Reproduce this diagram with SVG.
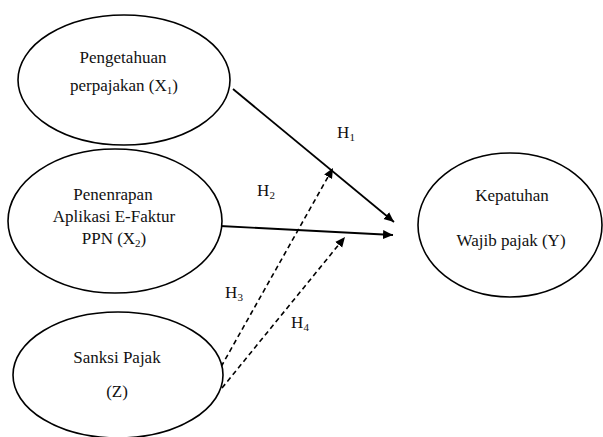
<svg xmlns="http://www.w3.org/2000/svg" width="603" height="437" viewBox="0 0 603 437">
<style>
.node{fill:#fff;stroke:#000;stroke-width:1.6}
text{font-family:"Liberation Serif","Times New Roman",serif;font-size:17px;fill:#111;text-anchor:middle}
.sub{font-size:11px}
.solid{stroke:#000;stroke-width:1.8;fill:none}
.dash{stroke:#000;stroke-width:1.6;fill:none;stroke-dasharray:5 3.5}
</style>
<defs>
<marker id="ah" viewBox="0 0 10 10" refX="10" refY="5" markerWidth="10" markerHeight="10" markerUnits="userSpaceOnUse" orient="auto">
<path d="M0,0.5 L10,5 L0,9.5 Z" fill="#000"/>
</marker>
</defs>
<rect width="603" height="437" fill="#fff"/>
<g id="connectors">
<line class="solid" x1="233" y1="89" x2="394" y2="222" marker-end="url(#ah)"/>
<line class="solid" x1="220" y1="226" x2="393" y2="235" marker-end="url(#ah)"/>
<line class="dash" x1="217" y1="374" x2="333" y2="168" marker-end="url(#ah)"/>
<line class="dash" x1="222" y1="388" x2="345" y2="237" marker-end="url(#ah)"/>
<text x="346" y="138">H<tspan class="sub" dy="3">1</tspan></text>
<text x="266" y="196">H<tspan class="sub" dy="3">2</tspan></text>
<text x="234" y="298">H<tspan class="sub" dy="3">3</tspan></text>
<text x="300" y="328">H<tspan class="sub" dy="3">4</tspan></text>
</g>
<g id="x1">
<ellipse class="node" cx="124" cy="80" rx="106" ry="65"/>
<text x="123" y="63">Pengetahuan</text>
<text x="124" y="91">perpajakan (X<tspan class="sub" dy="3">1</tspan><tspan dy="-3">)</tspan></text>
</g>
<g id="x2">
<ellipse class="node" cx="115" cy="221" rx="107" ry="72"/>
<text x="113" y="200">Penenrapan</text>
<text x="114" y="222">Aplikasi E-Faktur</text>
<text x="114" y="244">PPN (X<tspan class="sub" dy="3">2</tspan><tspan dy="-3">)</tspan></text>
</g>
<g id="z">
<ellipse class="node" cx="118" cy="375" rx="105" ry="63"/>
<text x="117" y="363">Sanksi Pajak</text>
<text x="117" y="397">(Z)</text>
</g>
<g id="y">
<ellipse class="node" cx="510" cy="225" rx="92" ry="72"/>
<text x="512" y="201">Kepatuhan</text>
<text x="511" y="246">Wajib pajak (Y)</text>
</g>
</svg>
